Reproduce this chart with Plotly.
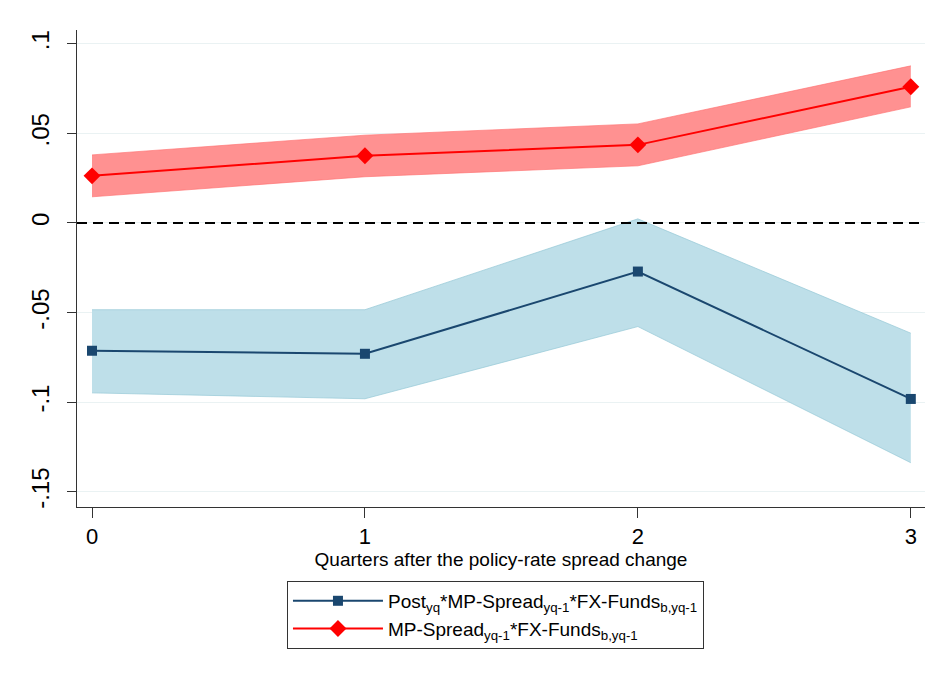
import plotly.graph_objects as go

quarters = [0, 1, 2, 3]

# Post*MP-Spread*FX-Funds (navy)
post_coef = [-0.0713, -0.0730, -0.0271, -0.0982]
post_hi = [-0.0484, -0.0484, 0.0023, -0.0615]
post_lo = [-0.0948, -0.0981, -0.0578, -0.1338]

# MP-Spread*FX-Funds (red)
mp_coef = [0.0263, 0.0375, 0.0436, 0.0760]
mp_hi = [0.0380, 0.0490, 0.0553, 0.0877]
mp_lo = [0.0146, 0.0258, 0.0319, 0.0648]

ytick_vals = [-0.15, -0.1, -0.05, 0, 0.05, 0.1]
ytick_text = ["-.15", "-.1", "-.05", "0", ".05", ".1"]

post_name = "Post<sub>yq</sub>*MP-Spread<sub>yq-1</sub>*FX-Funds<sub>b,yq-1</sub>"
mp_name = "MP-Spread<sub>yq-1</sub>*FX-Funds<sub>b,yq-1</sub>"

fig = go.Figure()

# bands
fig.add_trace(go.Scatter(x=quarters, y=post_hi, mode="lines", line=dict(width=0.8, color="rgba(150,200,215,0.9)"),
                         showlegend=False, hoverinfo="skip"))
fig.add_trace(go.Scatter(x=quarters, y=post_lo, mode="lines", line=dict(width=0.8, color="rgba(150,200,215,0.9)"),
                         fill="tonexty", fillcolor="#BEDFE9", showlegend=False, hoverinfo="skip"))
fig.add_trace(go.Scatter(x=quarters, y=mp_hi, mode="lines", line=dict(width=0.8, color="rgba(255,110,110,0.8)"),
                         showlegend=False, hoverinfo="skip"))
fig.add_trace(go.Scatter(x=quarters, y=mp_lo, mode="lines", line=dict(width=0.8, color="rgba(255,110,110,0.8)"),
                         fill="tonexty", fillcolor="#FF9191", showlegend=False, hoverinfo="skip"))

# lines
fig.add_trace(go.Scatter(x=quarters, y=post_coef, mode="lines+markers", name=post_name,
                         line=dict(color="#1A476F", width=2),
                         marker=dict(symbol="square", size=10, color="#1A476F")))
fig.add_trace(go.Scatter(x=quarters, y=mp_coef, mode="lines+markers", name=mp_name,
                         line=dict(color="#FF0000", width=2),
                         marker=dict(symbol="diamond", size=13, color="#FF0000")))

fig.add_shape(type="line", xref="paper", yref="y", x0=0, x1=1, y0=0, y1=0,
              line=dict(color="black", width=2, dash="10px,6px"))

font_family = "Liberation Sans, Arial, sans-serif"

fig.update_layout(
    width=936, height=689,
    margin=dict(l=69, r=19, t=22, b=190),
    paper_bgcolor="white", plot_bgcolor="white",
    font=dict(family=font_family, color="black", size=19),
    showlegend=True,
    legend=dict(
        x=0.2476, y=-0.155, xanchor="left", yanchor="top",
        bordercolor="#333333", borderwidth=1, bgcolor="white",
        font=dict(size=19, family=font_family),
        itemwidth=90, traceorder="normal",
        tracegroupgap=2,
    ),
    xaxis=dict(
        range=[-0.055, 3.052], tickvals=quarters, ticktext=[str(q) for q in quarters],
        showgrid=False, zeroline=False, showline=True, linecolor="#333333", linewidth=1,
        ticks="outside", ticklen=10, tickcolor="#333333",
        tickfont=dict(size=22), automargin=False,
        title=dict(text="Quarters after the policy-rate spread change", font=dict(size=19), standoff=0),
    ),
    yaxis=dict(
        range=[-0.1585, 0.1077], tickvals=ytick_vals, ticktext=ytick_text,
        tickangle=-90, showgrid=True, gridcolor="#EAF2F3", gridwidth=1,
        zeroline=False, showline=True, linecolor="#333333", linewidth=1,
        ticks="outside", ticklen=9, tickcolor="#333333",
        tickfont=dict(size=24), automargin=False, ticklabelstandoff=8,
    ),
)

fig.write_html("out.html")
